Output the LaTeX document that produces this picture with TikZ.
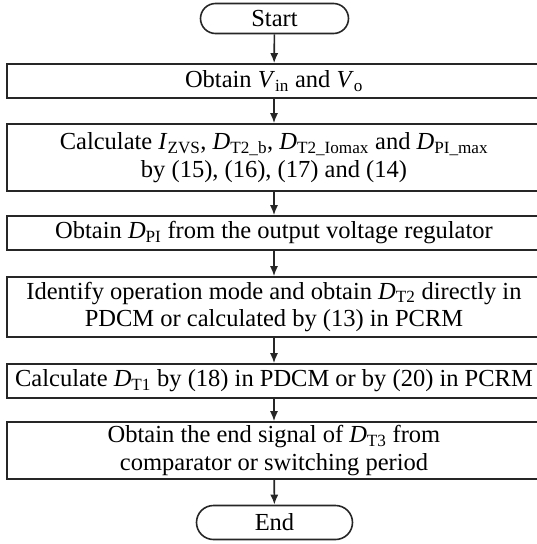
\documentclass[tikz,border=0pt]{standalone}
\usepackage{fontspec}
\setmainfont{Liberation Serif}
\usetikzlibrary{arrows.meta,shapes.misc}
\newcommand\vsub[2]{\textit{#1}\textsubscript{#2}}
\begin{document}
\begin{tikzpicture}[x=1pt,y=-1pt,
  box/.style={draw=black!85, line width=1.6pt, minimum width=534pt, align=center, inner sep=0pt, font=\fontsize{24.5}{27.5}\selectfont},
  term/.style={draw=black!85, rounded rectangle, line width=1.6pt, minimum width=148pt, minimum height=30pt, inner sep=0pt, font=\fontsize{24.5}{27.5}\selectfont},
  arr/.style={-{Latex[length=10pt,width=8pt]}, line width=1.6pt, draw=black!85}]
\useasboundingbox (0,0) rectangle (537,544);
\node[term] (start) at (274.5,18.5) {Start};
\node[box, minimum height=34pt] (b1) at (274,81) {Obtain \vsub{V}{in} and \vsub{V}{o}};
\node[box, minimum height=67pt] (b2) at (274,157.5) {Calculate \vsub{I}{ZVS}, \vsub{D}{T2\_b}, \vsub{D}{T2\_Iomax} and \vsub{D}{PI\_max}\\by (15), (16), (17) and (14)};
\node[box, minimum height=34pt] (b3) at (274,233) {Obtain \vsub{D}{PI} from the output voltage regulator};
\node[box, minimum height=60pt] (b4) at (274,307) {Identify operation mode and obtain \vsub{D}{T2} directly in\\PDCM or calculated by (13) in PCRM};
\node[box, minimum height=34pt] (b5) at (274,381) {Calculate \vsub{D}{T1} by (18) in PDCM or by (20) in PCRM};
\node[box, minimum height=57pt] (b6) at (274,450.5) {Obtain the end signal of \vsub{D}{T3} from\\comparator or switching period};
\node[term, minimum width=156pt, minimum height=34pt] (end) at (274.5,522.5) {End};
\draw[arr] (start) -- (b1);
\draw[arr] (b1) -- (b2);
\draw[arr] (b2) -- (b3);
\draw[arr] (b3) -- (b4);
\draw[arr] (b4) -- (b5);
\draw[arr] (b5) -- (b6);
\draw[arr] (b6) -- (end);
\end{tikzpicture}
\end{document}
